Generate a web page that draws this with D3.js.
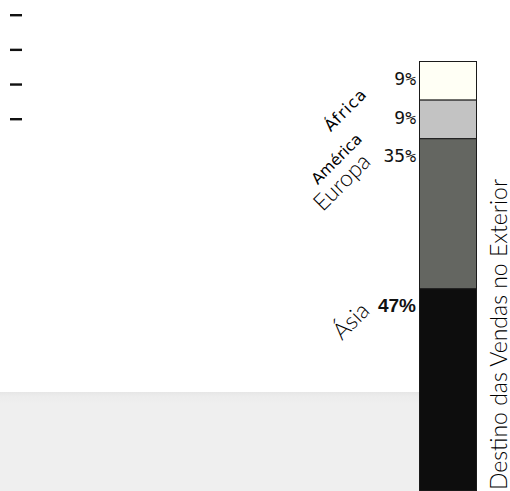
<!DOCTYPE html>
<html>
<head>
<meta charset="utf-8">
<script src="https://cdn.jsdelivr.net/npm/d3@7"></script>
<style>
  html, body { margin: 0; padding: 0; background: #ffffff; }
  svg { display: block; }
</style>
</head>
<body>
<svg id="chart" width="510" height="491"></svg>
<script>
// Export destinations, stacked top to bottom
const regions = ["África", "América", "Europa", "Ásia"];
const shares = [9, 9, 35, 47];
const shareLabels = ["9%", "9%", "35%", "47%"];
const fills = ["#fffff5", "#c3c3c3", "#646661", "#0d0d0d"];
const axisTitle = "Destino das Vendas no Exterior";

const W = 510, H = 491;
const svg = d3.select("#chart");

// Soft grey floor band behind the column
const defs = svg.append("defs");
const grad = defs.append("linearGradient").attr("id", "floor").attr("x1", 0).attr("x2", 0).attr("y1", 0).attr("y2", 1);
grad.append("stop").attr("offset", "0%").attr("stop-color", "#e6e6e6");
grad.append("stop").attr("offset", "4%").attr("stop-color", "#ececec");
grad.append("stop").attr("offset", "12%").attr("stop-color", "#efefef");
grad.append("stop").attr("offset", "100%").attr("stop-color", "#efefef");
svg.append("rect").attr("x", 0).attr("y", 392).attr("width", 420).attr("height", H - 392).attr("fill", "url(#floor)");

// Stack the shares
let acc = 0;
const stacked = shares.map((v, i) => {
  const d = { region: regions[i], label: shareLabels[i], fill: fills[i], y0: acc, y1: acc + v };
  acc += v;
  return d;
});

const y = d3.scaleLinear().domain([0, 100]).range([61, 490]);
const x = d3.scaleBand().domain(["col"]).range([419, 477]).padding(0);

// Column segments
svg.append("g").selectAll("rect").data(stacked).join("rect")
  .attr("x", x("col") + 0.5)
  .attr("y", d => y(d.y0) + 0.5)
  .attr("width", x.bandwidth() - 1)
  .attr("height", d => y(d.y1) - y(d.y0))
  .attr("fill", d => d.fill)
  .attr("stroke", "#1a1a1a")
  .attr("stroke-width", 1);

// Percentage labels left of the column
svg.append("g").selectAll("text").data(stacked).join("text")
  .attr("x", x("col") - 3)
  .attr("y", d => y(d.y0) + 19)
  .attr("text-anchor", "end")
  .attr("dominant-baseline", "middle")
  .attr("font-family", d => d.region === "Ásia" ? "Liberation Sans, Arial, sans-serif" : "DejaVu Sans Mono, monospace")
  .attr("font-weight", d => d.region === "Ásia" ? "bold" : "normal")
  .attr("font-size", d => d.region === "Ásia" ? 19 : 18)
  .attr("fill", "#111")
  .text(d => d.label);

// Slanted region names
const nameStyle = {
  "África": { dx: 368, dy: 95, font: "DejaVu Sans, sans-serif", size: 16, weight: 400, spacing: 1.2 },
  "América": { dx: 363, dy: 140, font: "DejaVu Sans, sans-serif", size: 15.5, weight: 400, spacing: 0 },
  "Europa": { dx: 372, dy: 163, font: "Lato, sans-serif", size: 23, weight: 300, spacing: 0 },
  "Ásia": { dx: 371, dy: 312, font: "Lato, sans-serif", size: 23, weight: 300, spacing: 0 }
};
svg.append("g").selectAll("text").data(stacked).join("text")
  .attr("transform", d => `translate(${nameStyle[d.region].dx},${nameStyle[d.region].dy}) rotate(-45)`)
  .attr("text-anchor", "end")
  .attr("font-family", d => nameStyle[d.region].font)
  .attr("font-size", d => nameStyle[d.region].size)
  .attr("font-weight", d => nameStyle[d.region].weight)
  .attr("letter-spacing", d => nameStyle[d.region].spacing)
  .attr("fill", "#000")
  .text(d => d.region);

// Small legend dashes at top left
const ly = d3.scalePoint().domain(regions).range([15, 119]);
svg.append("g").selectAll("rect").data(regions).join("rect")
  .attr("x", 10)
  .attr("y", d => ly(d) - 1)
  .attr("width", 12)
  .attr("height", 2.4)
  .attr("fill", "#111");

// Vertical axis title along the right edge
svg.append("text")
  .attr("transform", "translate(507,490) rotate(-90)")
  .attr("text-anchor", "start")
  .attr("font-family", "Lato, sans-serif")
  .attr("font-weight", 300)
  .attr("font-size", 23)
  .attr("fill", "#000")
  .text(axisTitle);
</script>
</body>
</html>
